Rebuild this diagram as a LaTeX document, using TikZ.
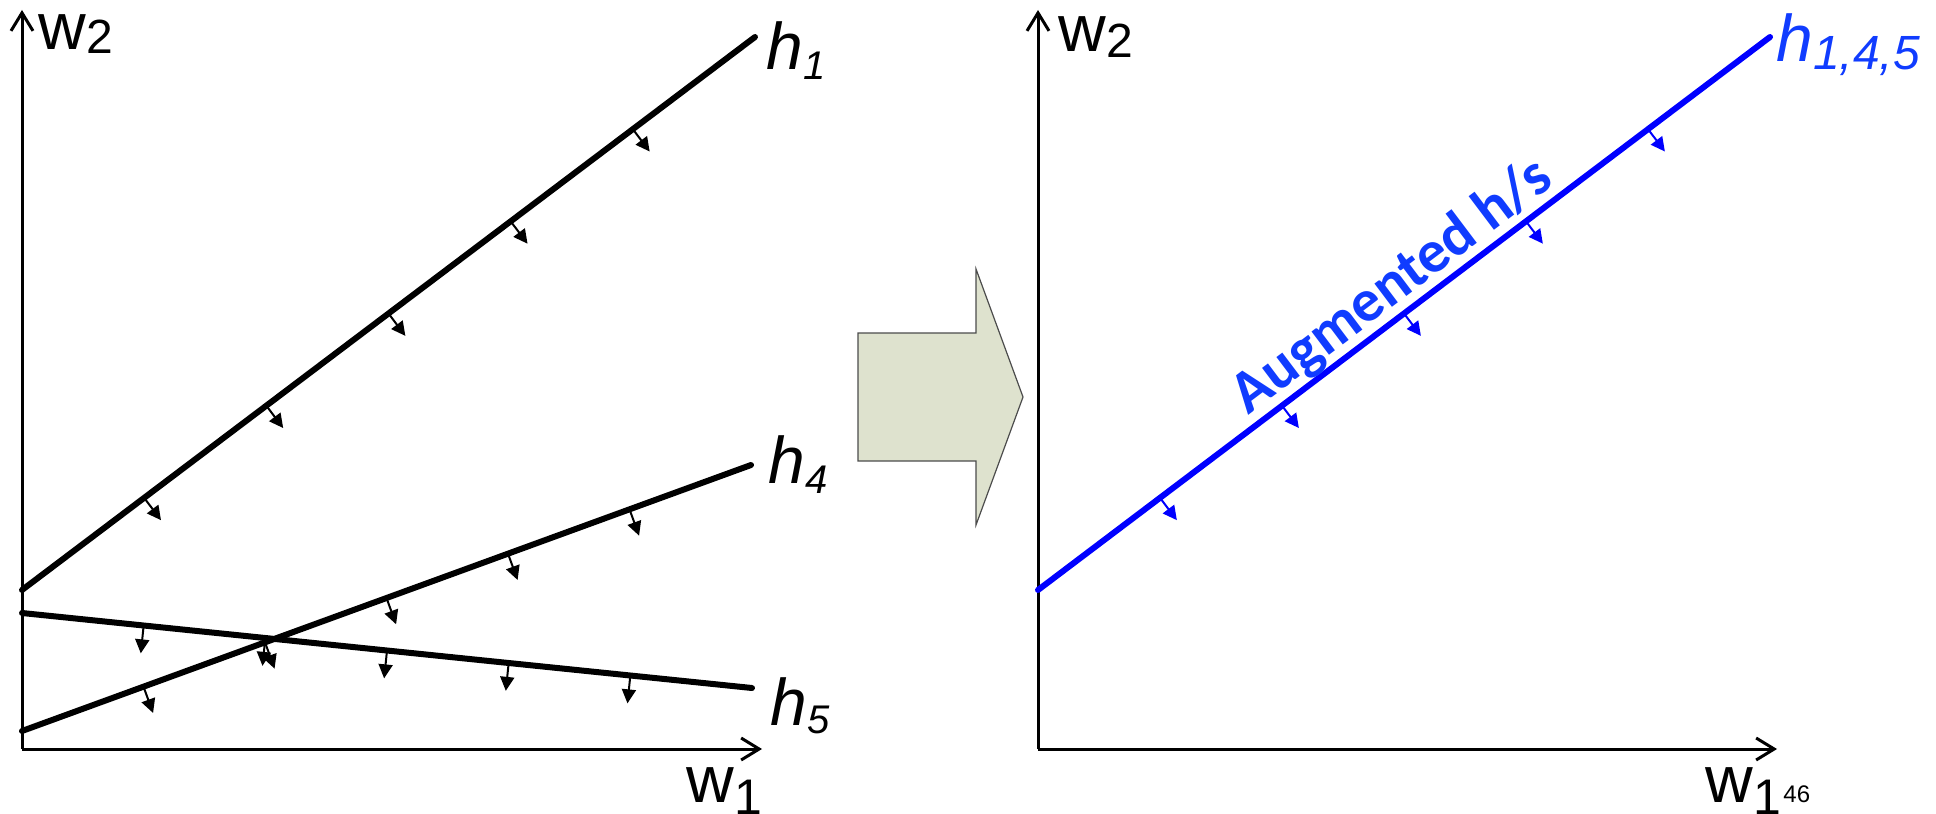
\documentclass[tikz,border=0pt]{standalone}
\usepackage{fontspec}
\setmainfont{Liberation Sans}
\newfontfamily\calfont{Carlito}
\usetikzlibrary{arrows.meta, calc, positioning}

\definecolor{arrowfill}{RGB}{222,226,206}
\definecolor{planeblue}{RGB}{0,0,255}
\definecolor{textblue}{RGB}{16,60,255}

\tikzstyle{waxis} = [line width=1.5pt, -{Straight Barb[length=9pt,width=11pt]}]
\tikzstyle{hplane} = [line width=3pt, line cap=round]
\tikzstyle{nrmarrow} = [line width=1pt, -{Triangle[length=7pt,width=7pt]}]
\tikzstyle{hlabel} = [inner sep=0pt, anchor=base west, font=\fontsize{33}{33}\selectfont\itshape]
\tikzstyle{wlabel} = [inner sep=0pt, anchor=base west, font=\fontsize{33}{33}\selectfont]

\begin{document}
\begin{tikzpicture}[x=0.5pt, y=-0.5pt]
        \useasboundingbox (0,0) rectangle (1936,813);

        % Coordinates
        \coordinate (lo) at (22,749);
        \coordinate (ly) at (22,10);
        \coordinate (lx) at (762,749);
        \coordinate (ro) at (1038,749);
        \coordinate (ry) at (1038,10);
        \coordinate (rx) at (1777,749);

        \coordinate (h1s) at (22,590);
        \coordinate (h1e) at (755,37);
        \coordinate (h4s) at (22,731);
        \coordinate (h4e) at (751,465);
        \coordinate (h5s) at (22,613);
        \coordinate (h5e) at (752,688);
        \coordinate (hbs) at (1038,590);
        \coordinate (hbe) at (1770,37);

        % Axes
        \draw [waxis] (lo) -- (ly);
        \draw [waxis] (lo) -- (lx);
        \draw [waxis] (ro) -- (ry);
        \draw [waxis] (ro) -- (rx);

        % Half-planes
        \draw [hplane] (h1s) -- (h1e);
        \draw [hplane] (h4s) -- (h4e);
        \draw [hplane] (h5s) -- (h5e);
        \draw [hplane, planeblue] (hbs) -- (hbe);

        % Normals
        \foreach \a/\b in {h1s/h1e, h4s/h4e, h5s/h5e}{
            \foreach \k in {1,...,5}{
                \draw [nrmarrow] ($(\a)!\k/6!(\b)$) -- ($(\a)!\k/6!(\b)!14pt!-90:(\b)$);
            }
        }
        \foreach \k in {1,...,5}{
            \draw [nrmarrow, planeblue] ($(hbs)!\k/6!(hbe)$) -- ($(hbs)!\k/6!(hbe)!14pt!-90:(hbe)$);
        }

        % Labels
        \node (h1lbl) [hlabel] at (766,70) {h\raisebox{-5pt}{\fontsize{20}{20}\selectfont\itshape 1}};
        \node (h4lbl) [hlabel] at (768,483) {h\raisebox{-5pt}{\fontsize{20}{20}\selectfont\itshape 4}};
        \node (h5lbl) [hlabel] at (770,725) {h\raisebox{-4pt}{\fontsize{20}{20}\selectfont\itshape 5}};
        \node (hblbl) [hlabel, textblue] at (1776,62) {h\raisebox{-4pt}{\fontsize{24}{24}\selectfont\itshape 1,4,5}};

        \node (lw2) [wlabel] at (38,50) {w\raisebox{-2pt}{\fontsize{24}{24}\selectfont 2}};
        \node (rw2) [wlabel] at (1058,52) {w\raisebox{-3pt}{\fontsize{24}{24}\selectfont 2}};
        \node (lw1) [wlabel] at (686,802) {w\raisebox{-6pt}{\fontsize{25}{25}\selectfont 1}};
        \node (rw1) [wlabel] at (1705,802) {w\raisebox{-6pt}{\fontsize{25}{25}\selectfont 1}};
        \node (pgnum) [inner sep=0pt, anchor=base west, font=\fontsize{12}{12}\selectfont] at (1783,802) {46};

        \node (aug) [inner sep=0pt, rotate=37, text=textblue, font=\fontsize{30}{30}\selectfont\calfont\bfseries]
            at ($(hbs)!0.507!(hbe)!14pt!90:(hbe)$) {Augmented h/s};

        % Transition arrow
        \draw [fill=arrowfill, draw=black!70, line width=0.6pt]
            (858,333) -- (976,333) -- (976,269) -- (1023,397) -- (976,525) -- (976,461) -- (858,461) -- cycle;
    \end{tikzpicture}
\end{document}
